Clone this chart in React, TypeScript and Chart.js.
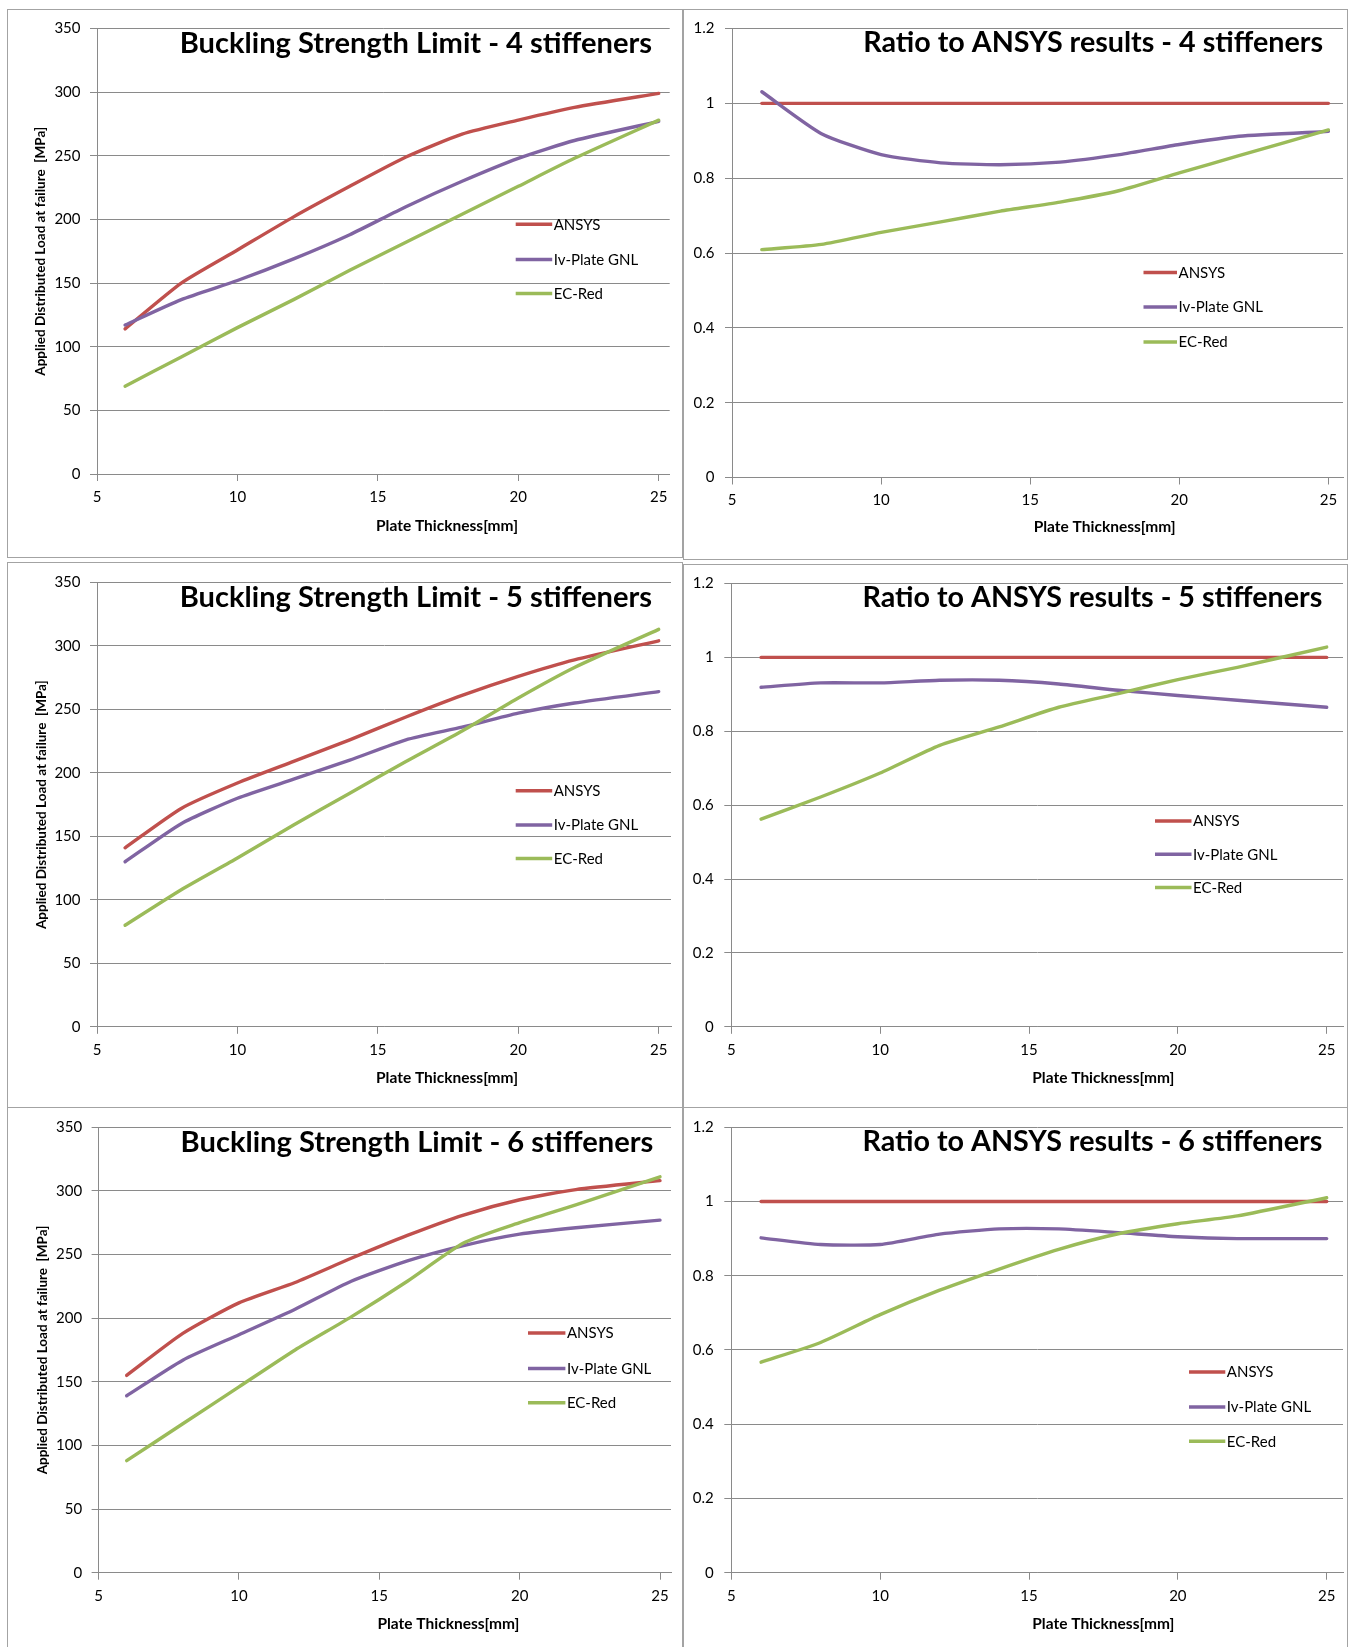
import React, { useEffect, useRef } from "react";
import { Chart, registerables } from "chart.js";

Chart.register(...registerables);

// ---------------- data ----------------
const THICKNESS = [6, 8, 10, 12, 14, 16, 18, 20, 22, 25];
const X_TICKS = [5, 10, 15, 20, 25];
const LOAD_TICKS = [0, 50, 100, 150, 200, 250, 300, 350];
const RATIO_TICKS = [0, 0.2, 0.4, 0.6, 0.8, 1, 1.2];
const RATIO_TICK_LABELS = ["0", "0.2", "0.4", "0.6", "0.8", "1", "1.2"];
const SERIES_NAMES = ["ANSYS", "Iv-Plate GNL", "EC-Red"];
const X_TITLE = "Plate Thickness[mm]";
const Y_TITLE = "Applied Distributed Load at failure  [MPa]";

const ANSYS_4 = [114, 150, 176, 202, 226, 249, 267, 278, 288, 299];
const IVPLATE_4 = [117, 137, 152, 169, 188, 210, 230, 248, 262, 277];
const ECRED_4 = [69, 92, 115, 137, 160, 182, 204, 226, 248, 278];

const ANSYS_5 = [141, 172, 192, 209, 226, 244, 261, 276, 289, 304];
const IVPLATE_5 = [130, 160, 180, 195, 210, 226, 236, 247, 255, 264];
const ECRED_5 = [80, 108, 133, 159, 184, 209, 233, 259, 283, 313];

const ANSYS_6 = [155, 188, 212, 228, 247, 265, 281, 293, 301, 308];
const IVPLATE_6 = [139, 167, 187, 207, 229, 245, 257, 266, 271, 277];
const ECRED_6 = [88, 117, 146, 175, 201, 229, 259, 275, 289, 311];

const RATIO_ANSYS = [1, 1, 1, 1, 1, 1, 1, 1, 1, 1];
const RATIO_IV_4 = [1.031, 0.919, 0.863, 0.841, 0.836, 0.843, 0.863, 0.89, 0.912, 0.925];
const RATIO_EC_4 = [0.609, 0.623, 0.655, 0.683, 0.712, 0.736, 0.767, 0.814, 0.86, 0.929];
const RATIO_IV_5 = [0.919, 0.931, 0.931, 0.938, 0.938, 0.928, 0.911, 0.897, 0.884, 0.865];
const RATIO_EC_5 = [0.562, 0.622, 0.687, 0.762, 0.812, 0.865, 0.902, 0.94, 0.973, 1.028];
const RATIO_IV_6 = [0.902, 0.884, 0.884, 0.912, 0.926, 0.926, 0.916, 0.905, 0.9, 0.9];
const RATIO_EC_6 = [0.567, 0.62, 0.695, 0.761, 0.818, 0.871, 0.913, 0.94, 0.961, 1.01];

// ---------------- styles / layout ----------------
const COLORS = ["#C0504D", "#8064A2", "#9BBB59"];
const GRID = "#8a8a8a";
const FONT = "Lato";
const HX = 40;
const TICK_SIZE = 15;
const LEGEND_SIZE = 15;
const XTITLE_SIZE = 15.5;

type Panel = {
  kind: "load" | "ratio";
  title: string;
  series: number[][];
  box: { x: number; y: number; w: number; h: number };
  area: { l: number; t: number; b: number; r: number; x25: number };
  yTitleX?: number;
  yPad: number;
  xTitle: { x: number; y: number };
  titleAt: { l: number; r: number; y: number };
  legend: { x0: number; x1: number; ys: number[] };
};

const PANELS: Panel[] = [
  {
    kind: "load",
    title: "Buckling Strength Limit - 4 stiffeners",
    series: [ANSYS_4, IVPLATE_4, ECRED_4],
    box: { x: 7, y: 9, w: 676, h: 549 },
    area: { l: 97, t: 28.5, b: 474, r: 669.7, x25: 658.7 },
    yTitleX: 40.7,
    yPad: 9.5,
    xTitle: { x: 447, y: 525 },
    titleAt: { l: 179.5, r: 652, y: 42.1 },
    legend: { x0: 515.7, x1: 552.2, ys: [224.3, 259.6, 293.6] },
  },
  {
    kind: "ratio",
    title: "Ratio to ANSYS results - 4 stiffeners",
    series: [RATIO_ANSYS, RATIO_IV_4, RATIO_EC_4],
    box: { x: 683, y: 9, w: 665, h: 551 },
    area: { l: 732, t: 28, b: 477.5, r: 1343, x25: 1328.4 },
    yPad: 10.5,
    xTitle: { x: 1104.7, y: 526.8 },
    titleAt: { l: 863, r: 1323, y: 42.1 },
    legend: { x0: 1143.5, x1: 1177, ys: [272.5, 307, 342] },
  },
  {
    kind: "load",
    title: "Buckling Strength Limit - 5 stiffeners",
    series: [ANSYS_5, IVPLATE_5, ECRED_5],
    box: { x: 7, y: 562, w: 676, h: 546 },
    area: { l: 97, t: 582.4, b: 1026.8, r: 671, x25: 658.7 },
    yTitleX: 41.8,
    yPad: 9.5,
    xTitle: { x: 447, y: 1077.7 },
    titleAt: { l: 179.5, r: 652, y: 596.4 },
    legend: { x0: 515.7, x1: 552.2, ys: [790.7, 825.1, 858.4] },
  },
  {
    kind: "ratio",
    title: "Ratio to ANSYS results - 5 stiffeners",
    series: [RATIO_ANSYS, RATIO_IV_5, RATIO_EC_5],
    box: { x: 683, y: 564, w: 665, h: 544 },
    area: { l: 731.3, t: 582.4, b: 1026.8, r: 1343, x25: 1326.7 },
    yPad: 10.5,
    xTitle: { x: 1103.3, y: 1077.7 },
    titleAt: { l: 862.3, r: 1322.4, y: 596.4 },
    legend: { x0: 1155, x1: 1191.5, ys: [820.9, 854.2, 887.6] },
  },
  {
    kind: "load",
    title: "Buckling Strength Limit - 6 stiffeners",
    series: [ANSYS_6, IVPLATE_6, ECRED_6],
    box: { x: 7, y: 1107, w: 676, h: 545 },
    area: { l: 98.6, t: 1127.2, b: 1572.7, r: 671, x25: 660 },
    yTitleX: 42.2,
    yPad: 9.5,
    xTitle: { x: 448.4, y: 1623.4 },
    titleAt: { l: 180.4, r: 653.4, y: 1141.2 },
    legend: { x0: 528, x1: 565.4, ys: [1333, 1368.6, 1402.8] },
  },
  {
    kind: "ratio",
    title: "Ratio to ANSYS results - 6 stiffeners",
    series: [RATIO_ANSYS, RATIO_IV_6, RATIO_EC_6],
    box: { x: 683, y: 1107, w: 665, h: 545 },
    area: { l: 731.3, t: 1127.2, b: 1572.7, r: 1343, x25: 1326.7 },
    yPad: 10.5,
    xTitle: { x: 1103.3, y: 1623.3 },
    titleAt: { l: 862.3, r: 1322.4, y: 1141.2 },
    legend: { x0: 1189, x1: 1225.3, ys: [1372.1, 1407, 1441.2] },
  },
];

function ChartPanel({ p }: { p: Panel }) {
  const ref = useRef<HTMLCanvasElement | null>(null);

  useEffect(() => {
    if (!ref.current) return;
    const { box, area } = p;
    const isLoad = p.kind === "load";
    const xmax = 5 + (20 * (area.r - area.l)) / (area.x25 - area.l);
    const yTitleSize = 13.5;
    const yTitleLH = yTitleSize * 1.2;
    const padLeft = isLoad ? (p.yTitleX as number) - box.x - yTitleLH / 2 : 2;
    const yWidth = area.l - box.x - padLeft;
    const padTop = area.t - box.y;
    const padRight = box.x + box.w - area.r;
    const padBottom = box.y + box.h - area.b - HX;

    const overlay = {
      id: "overlay",
      afterDraw(chart: any) {
        const ctx = chart.ctx as CanvasRenderingContext2D;
        ctx.save();
        // main title, fitted to its width in the reference
        const target = p.titleAt.r - p.titleAt.l;
        ctx.font = `bold 24px ${FONT}`;
        const w0 = ctx.measureText(p.title).width;
        const size = (24 * target) / w0;
        ctx.font = `bold ${size}px ${FONT}`;
        ctx.fillStyle = "#000";
        ctx.textAlign = "right";
        ctx.textBaseline = "alphabetic";
        ctx.fillText(p.title, p.titleAt.r - box.x, p.titleAt.y - box.y + size * 0.358);

        // x axis title
        ctx.font = `bold ${XTITLE_SIZE}px ${FONT}`;
        ctx.textAlign = "center";
        ctx.fillText(X_TITLE, p.xTitle.x - box.x, p.xTitle.y - box.y + XTITLE_SIZE * 0.358);

        // legend
        ctx.lineCap = "butt";
        for (let i = 0; i < SERIES_NAMES.length; i++) {
          const y = p.legend.ys[i] - box.y;
          ctx.strokeStyle = COLORS[i];
          ctx.lineWidth = 3.5;
          ctx.beginPath();
          ctx.moveTo(p.legend.x0 - box.x, y);
          ctx.lineTo(p.legend.x1 - box.x, y);
          ctx.stroke();
          ctx.font = `${LEGEND_SIZE}px ${FONT}`;
          ctx.textAlign = "left";
          ctx.fillStyle = "#000";
          ctx.fillText(SERIES_NAMES[i], p.legend.x1 - box.x + 1.5, y + LEGEND_SIZE * 0.358);
        }
        ctx.restore();
      },
    };

    const chart = new Chart(ref.current, {
      type: "line",
      data: {
        datasets: p.series.map((vals, i) => ({
          label: SERIES_NAMES[i],
          data: THICKNESS.map((x, j) => ({ x, y: vals[j] })),
          borderColor: COLORS[i],
          backgroundColor: COLORS[i],
          borderWidth: 3.4,
          tension: 0.2,
          pointRadius: 0,
          borderCapStyle: "round",
          borderJoinStyle: "round",
          fill: false,
          order: 3 - i,
        })),
      },
      options: {
        animation: false,
        responsive: false,
        devicePixelRatio: 1,
        layout: { padding: { left: padLeft, top: padTop, right: padRight, bottom: padBottom } },
        plugins: {
          legend: { display: false },
          title: { display: false },
          tooltip: { enabled: false },
        },
        scales: {
          x: {
            type: "linear",
            min: 5,
            max: xmax,
            afterBuildTicks: (s: any) => {
              s.ticks = X_TICKS.map((v) => ({ value: v }));
            },
            afterFit: (s: any) => {
              s.height = HX;
            },
            ticks: {
              autoSkip: false,
              maxRotation: 0,
              padding: 7,
              color: "#000",
              font: { family: FONT, size: TICK_SIZE },
              callback: (v: any) => String(v),
            },
            grid: {
              drawOnChartArea: false,
              drawTicks: true,
              tickLength: 7,
              color: GRID,
              lineWidth: 1,
            },
            border: { display: true, color: GRID, width: 1 },
          },
          y: {
            type: "linear",
            min: 0,
            max: isLoad ? 350 : 1.2,
            afterBuildTicks: (s: any) => {
              s.ticks = (isLoad ? LOAD_TICKS : RATIO_TICKS).map((v) => ({ value: v }));
            },
            afterFit: (s: any) => {
              s.width = yWidth;
            },
            ticks: {
              padding: p.yPad,
              color: "#000",
              font: { family: FONT, size: TICK_SIZE },
              callback: (v: any) => {
                if (isLoad) return String(v);
                const idx = RATIO_TICKS.findIndex((t) => Math.abs(t - v) < 1e-6);
                return idx >= 0 ? RATIO_TICK_LABELS[idx] : "";
              },
            },
            grid: {
              drawOnChartArea: true,
              drawTicks: true,
              tickLength: 7,
              color: GRID,
              lineWidth: 1,
            },
            border: { display: true, color: GRID, width: 1 },
            title: {
              display: isLoad,
              text: Y_TITLE,
              color: "#000",
              font: { family: FONT, size: yTitleSize, weight: "bold" },
              padding: { top: 0, bottom: 0 },
            },
          },
        },
      },
      plugins: [overlay],
    } as any);

    return () => chart.destroy();
  }, [p]);

  return (
    <>
      <canvas
        ref={ref}
        width={p.box.w}
        height={p.box.h}
        style={{
          position: "absolute",
          left: p.box.x,
          top: p.box.y,
          width: p.box.w,
          height: p.box.h,
        }}
      />
      <div
        style={{
          position: "absolute",
          left: p.box.x,
          top: p.box.y,
          width: p.box.w,
          height: p.box.h,
          border: "1px solid #a3a3a3",
          boxSizing: "border-box",
          pointerEvents: "none",
        }}
      />
    </>
  );
}

export default function App() {
  return (
    <div
      style={{
        position: "absolute",
        left: 0,
        top: 0,
        width: 1348,
        height: 1647,
        overflow: "hidden",
        background: "#fff",
      }}
    >
      {PANELS.map((p, i) => (
        <ChartPanel key={i} p={p} />
      ))}
    </div>
  );
}
